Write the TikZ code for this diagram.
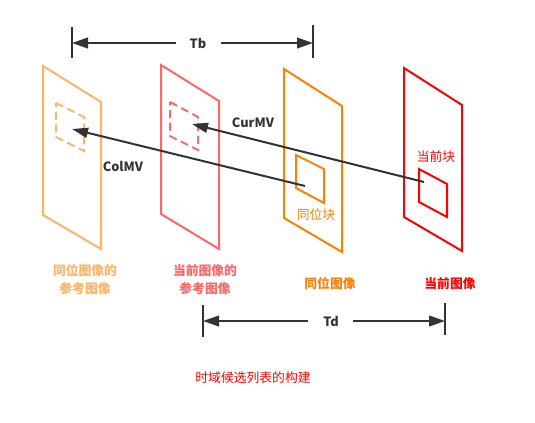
\documentclass[tikz,border=0pt]{standalone}
\usepackage{fontspec}
\setmainfont{Noto Sans CJK SC}
\newfontfamily\cjk{Noto Sans CJK SC}
\usetikzlibrary{arrows.meta}
\definecolor{cA}{HTML}{FFB366}
\definecolor{cB}{HTML}{FF6666}
\definecolor{cC}{HTML}{FF8000}
\definecolor{cD}{HTML}{FF0000}
\definecolor{ink}{HTML}{333333}
\begin{document}
\begin{tikzpicture}[x=0.75pt,y=-0.75pt,
  plane/.style={line width=1.5pt, line join=miter},
  dimline/.style={ink, line width=1.5pt, -{Triangle[length=12pt,width=8pt]}},
  tick/.style={ink, line width=1.5pt},
  mv/.style={ink, line width=1.5pt, -{Triangle[length=12pt,width=7.5pt]}},
  lab/.style={font=\cjk\fontsize{9.6}{12}\selectfont\bfseries, align=center, inner sep=0pt},
  mvlab/.style={ink, font=\cjk\fontsize{9.6}{12}\selectfont\bfseries, inner sep=0pt},
  blk/.style={font=\cjk\fontsize{9.6}{12}\selectfont, inner sep=0pt}]
\useasboundingbox (0,0) rectangle (535,422);
\fill[white] (0,0) rectangle (535,422);
% planes
\draw[plane, cA] (43,66) -- (101,102) -- (101,249) -- (43,215) -- cycle;
\draw[plane, cB] (161,65) -- (219,101) -- (219,249) -- (161,214) -- cycle;
\draw[plane, cC] (284,69) -- (342,106) -- (342,252) -- (284,218) -- cycle;
\draw[plane, cD] (404,68) -- (462,105) -- (462,251) -- (404,217) -- cycle;
% blocks
\draw[plane, cA, dashed, dash pattern=on 6pt off 3.5pt] (56,103) -- (84,117) -- (84,151) -- (56,137) -- cycle;
\draw[plane, cB, dashed, dash pattern=on 6pt off 3.5pt] (170,102) -- (198,117) -- (198,150) -- (170,136) -- cycle;
\draw[plane, cC] (296,155) -- (324,169) -- (324,203) -- (296,188) -- cycle;
\draw[plane, cD] (419,169) -- (447,184) -- (447,217) -- (419,202) -- cycle;
% motion vectors
\coordinate (colS) at (305,186);
\coordinate (colE) at (72,129);
\coordinate (curS) at (424,182);
\coordinate (curE) at (192,124);
\draw[mv] (colS) -- (colE);
\draw[mv] (curS) -- (curE);
\node[mvlab] (colmv) at (123,166) {ColMV};
\node[mvlab] (curmv) at (253,123) {CurMV};
\node[blk, cC] (tw) at (316,215) {同位块};
\node[blk, cD] (dq) at (436,157) {当前块};
% Tb
\coordinate (tbL) at (72,43);
\coordinate (tbR) at (313,43);
\draw[tick] (72,27) -- (72,58);
\draw[tick] (313,25) -- (313,58);
\node[mvlab] (tb) at (198,43) {Tb};
\draw[dimline] (176,43) -- (tbL);
\draw[dimline] (221,43) -- (tbR);
% Td
\coordinate (tdL) at (203,321);
\coordinate (tdR) at (445,321);
\draw[tick] (203,305) -- (203,337);
\draw[tick] (445,303) -- (445,335);
\node[mvlab] (td) at (331,321) {Td};
\draw[dimline] (308,321) -- (tdL);
\draw[dimline] (353,321) -- (tdR);
% labels
\node[lab, cA] (l1) at (85,279.5) {同位图像的\\[1pt]参考图像};
\node[lab, cB] (l2) at (205,279.5) {当前图像的\\[1pt]参考图像};
\node[lab, cC] (l3) at (330,284) {同位图像};
\node[lab, cD] (l4) at (450,284) {当前图像};
\node[blk, cD] (cap) at (253,378) {时域候选列表的构建};
\end{tikzpicture}
\end{document}
